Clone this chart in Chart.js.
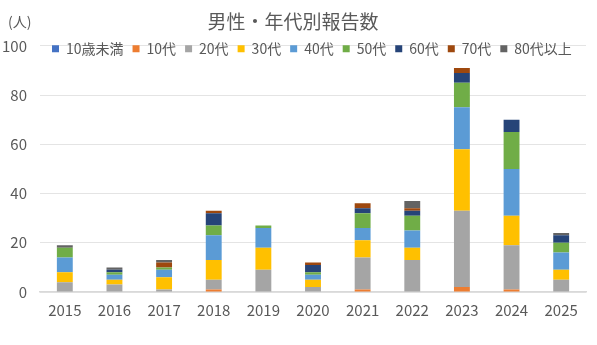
<!DOCTYPE html>
<html>
<head>
<meta charset="utf-8">
<script src="https://cdn.jsdelivr.net/npm/chart.js@4.4.1/dist/chart.umd.min.js"></script>
<style>
  html, body { margin: 0; padding: 0; background: #ffffff; }
  #wrap { width: 597px; height: 345px; }
</style>
</head>
<body>
<div id="wrap"><canvas id="c" width="597" height="345"></canvas></div>
<script>
const years = ['2015','2016','2017','2018','2019','2020','2021','2022','2023','2024','2025'];
const seriesNames = ['10歳未満','10代','20代','30代','40代','50代','60代','70代','80代以上'];
const under10 = [0,0,0,0,0,0,0,0,0,0,0];
const age10s  = [0,0,0,1,0,0,1,0,2,1,0];
const age20s  = [4,3,1,4,9,2,13,13,31,18,5];
const age30s  = [4,2,5,8,9,3,7,5,25,12,4];
const age40s  = [6,2,3,10,8,2,5,7,17,19,7];
const age50s  = [4,1,1,4,1,1,6,6,10,15,4];
const age60s  = [0,1,0,5,0,3,2,2,4,5,3];
const age70s  = [0,0,2,1,0,1,2,1,2,0,0];
const age80up = [1,1,1,0,0,0,0,3,0,0,1];
const yTicks = [0,20,40,60,80,100];
const titleText = '男性・年代別報告数';
const unitText = '(人)';

const seriesValues = [under10, age10s, age20s, age30s, age40s, age50s, age60s, age70s, age80up];
const colors = ['#4472C4','#ED7D31','#A5A5A5','#FFC000','#5B9BD5','#70AD47','#264478','#9E480E','#636363'];

const FONT = "'Noto Sans CJK JP', 'Noto Sans', sans-serif";
const TXT = '#595959';
Chart.defaults.font.family = FONT;
Chart.defaults.color = TXT;

const datasets = seriesNames.map((name, i) => ({
  label: name,
  data: seriesValues[i],
  backgroundColor: colors[i],
  borderWidth: 0,
  categoryPercentage: 0.8,
  barPercentage: 0.4
}));

const layoutHack = {
  id: 'layoutHack',
  beforeUpdate(chart) {
    const lg = chart.legend;
    if (lg && !lg._patched) {
      const f = lg.fit;
      lg.fit = function () { f.call(this); this.height = 13; };
      lg._patched = true;
    }
  },
  afterLayout(chart) {
    const lg = chart.legend;
    if (lg) {
      lg.left = 43;
      lg.right = 597;
      lg.width = lg.right - lg.left;
      lg.height = 40;
      lg.bottom = lg.top + 40;
    }
  },
  afterDraw(chart) {
    const ctx = chart.ctx;
    ctx.save();
    ctx.font = '14px ' + FONT;
    ctx.fillStyle = TXT;
    ctx.textAlign = 'left';
    ctx.textBaseline = 'middle';
    ctx.fillText(unitText, 8, 22);
    ctx.restore();
  }
};

new Chart(document.getElementById('c'), {
  type: 'bar',
  data: { labels: years, datasets },
  options: {
    responsive: false,
    animation: false,
    layout: { padding: { left: 0, right: 11, top: 0, bottom: 0 } },
    plugins: {
      title: {
        display: true,
        text: titleText,
        color: TXT,
        font: { size: 19, weight: 'normal', family: FONT },
        padding: { top: 10, bottom: 0 }
      },
      legend: {
        display: true,
        position: 'top',
        align: 'start',
        labels: {
          boxWidth: 7,
          boxHeight: 7,
          padding: 9,
          color: TXT,
          font: { size: 14, family: FONT }
        }
      },
      tooltip: { enabled: false }
    },
    scales: {
      x: {
        stacked: true,
        grid: { display: false, drawTicks: false },
        border: { display: true, color: '#D9D9D9', width: 1.5 },
        ticks: { padding: 9, color: TXT, font: { size: 15, family: FONT }, maxRotation: 0 },
        afterFit(scale) { scale.height = 53; }
      },
      y: {
        stacked: true,
        min: 0,
        max: 100,
        afterBuildTicks(scale) { scale.ticks = yTicks.map(v => ({ value: v })); },
        grid: { color: '#E4E4E4', drawTicks: false, lineWidth: 1 },
        border: { display: false },
        ticks: { padding: 13, color: TXT, font: { size: 15, family: FONT } },
        afterFit(scale) { scale.width = 40; }
      }
    }
  },
  plugins: [layoutHack]
});
</script>
</body>
</html>
